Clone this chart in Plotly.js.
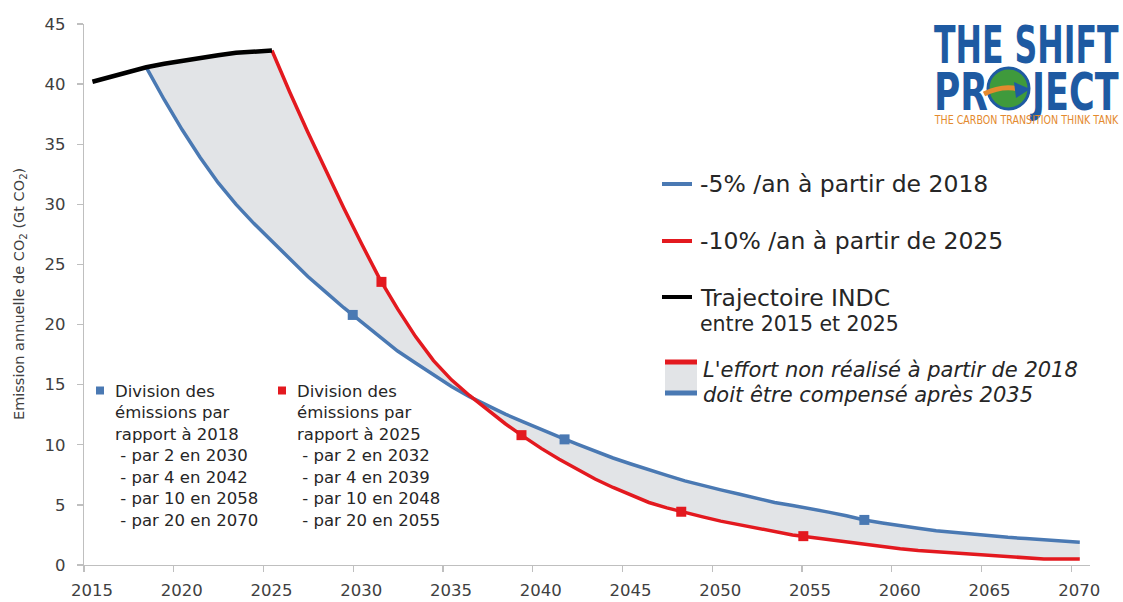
<!DOCTYPE html>
<html>
<head>
<meta charset="utf-8">
<script src="https://cdn.plot.ly/plotly-3.0.1.min.js"></script>
<style>
  html, body { margin: 0; padding: 0; background: #ffffff; }
  #chart { width: 1123px; height: 602px; }
</style>
</head>
<body>
<div id="chart"></div>
<script>
// ---- Data (Gt CO2 per year) ----
const indcYears = [2015, 2016, 2017, 2018, 2019, 2020, 2021, 2022, 2023, 2024, 2025];
const indcValues = [40.2, 40.6, 41.0, 41.4, 41.7, 41.95, 42.2, 42.4, 42.6, 42.7, 42.8];

const minus5Years = [2018, 2019, 2020, 2021, 2022, 2023, 2024, 2025, 2026, 2027,
  2028, 2029, 2030, 2031, 2032, 2033, 2034, 2035, 2036, 2037,
  2038, 2039, 2040, 2041, 2042, 2043, 2044, 2045, 2046, 2047,
  2048, 2049, 2050, 2051, 2052, 2053, 2054, 2055, 2056, 2057,
  2058, 2059, 2060, 2061, 2062, 2063, 2064, 2065, 2066, 2067,
  2068, 2069, 2070];
const minus5Values = [41.4, 38.7, 36.2, 33.9, 31.8, 30.0, 28.4, 26.9, 25.4, 24.0,
  22.7, 21.4, 20.2, 19.0, 17.8, 16.8, 15.8, 14.85, 14.0, 13.25,
  12.55, 11.9, 11.25, 10.65, 10.05, 9.45, 8.9, 8.4, 7.9, 7.45,
  7.0, 6.6, 6.25, 5.9, 5.55, 5.2, 4.95, 4.7, 4.4, 4.1,
  3.75, 3.5, 3.25, 3.05, 2.85, 2.7, 2.55, 2.4, 2.3, 2.2,
  2.1, 2.0, 1.9];

const minus10Years = [2025, 2026, 2027, 2028, 2029, 2030, 2031, 2032, 2033, 2034,
  2035, 2036, 2037, 2038, 2039, 2040, 2041, 2042, 2043, 2044,
  2045, 2046, 2047, 2048, 2049, 2050, 2051, 2052, 2053, 2054,
  2055, 2056, 2057, 2058, 2059, 2060, 2061, 2062, 2063, 2064,
  2065, 2066, 2067, 2068, 2069, 2070];
const minus10Values = [42.8, 39.3, 36.0, 32.8, 29.7, 26.7, 23.8, 21.3, 19.0, 17.0,
  15.4, 14.1, 12.9, 11.75, 10.7, 9.7, 8.8, 7.95, 7.15, 6.45,
  5.8, 5.2, 4.75, 4.35, 4.0, 3.65, 3.35, 3.05, 2.75, 2.5,
  2.3, 2.1, 1.9, 1.7, 1.5, 1.35, 1.2, 1.1, 1.0, 0.88,
  0.78, 0.7, 0.62, 0.5, 0.5, 0.5];

// milestone markers (division of emissions)
const minus5MarkerYears = [2029.5, 2041.3, 2058.0];
const minus5MarkerValues = [20.8, 10.45, 3.75];
const minus10MarkerYears = [2031.1, 2038.9, 2047.8, 2054.6];
const minus10MarkerValues = [23.55, 10.8, 4.43, 2.4];

const xTickLabels = ['2015', '2020', '2025', '2030', '2035', '2040', '2045',
  '2050', '2055', '2060', '2065', '2070'];
const yTickValues = [0, 5, 10, 15, 20, 25, 30, 35, 40, 45];

// ---- Styling ----
const BLUE = '#4a79b3';
const RED = '#e3191f';
const BLACK = '#000000';
const FILL = '#e2e4e7';
const AXIS = '#bfbfbf';
const TEXT = '#404040';
const FONT = 'DejaVu Sans, Verdana, sans-serif';
const LOGO_FONT = 'DejaVu Sans, sans-serif';
const LOGO_BLUE = '#1e5aa2';
const LOGO_ORANGE = '#e48a2e';

const W = 1123, H = 602;
const M = { l: 84, r: 33, t: 24, b: 37 };
const PW = W - M.l - M.r;
const PH = H - M.t - M.b;
const px = x => (x - M.l) / PW;          // pixel -> paper (x)
const py = y => (H - M.b - y) / PH;      // pixel -> paper (y)

// Shaded gap: INDC from 2018 to 2025, then the -10% path, back along the -5% path
const i2018 = indcYears.indexOf(2018);
const gapX = indcYears.slice(i2018).concat(minus10Years, minus5Years.slice().reverse());
const gapY = indcValues.slice(i2018).concat(minus10Values, minus5Values.slice().reverse());

const traces = [
  { x: gapX, y: gapY, type: 'scatter', mode: 'lines', fill: 'toself',
    fillcolor: FILL, line: { width: 0 }, hoverinfo: 'skip', showlegend: false },
  { x: minus5Years, y: minus5Values, type: 'scatter', mode: 'lines',
    line: { color: BLUE, width: 3.5 }, showlegend: false },
  { x: minus10Years, y: minus10Values, type: 'scatter', mode: 'lines',
    line: { color: RED, width: 3.5 }, showlegend: false },
  { x: indcYears, y: indcValues, type: 'scatter', mode: 'lines',
    line: { color: BLACK, width: 4.5 }, showlegend: false },
  { x: minus5MarkerYears, y: minus5MarkerValues, type: 'scatter', mode: 'markers',
    marker: { symbol: 'square', size: 10, color: BLUE }, showlegend: false },
  { x: minus10MarkerYears, y: minus10MarkerValues, type: 'scatter', mode: 'markers',
    marker: { symbol: 'square', size: 10, color: RED }, showlegend: false }
];

const shapes = [];
const annotations = [];

function hLine(x0, x1, y, color, width) {
  shapes.push({ type: 'line', xref: 'paper', yref: 'paper',
    x0: px(x0), x1: px(x1), y0: py(y), y1: py(y),
    line: { color: color, width: width } });
}
function rect(x0, x1, y0, y1, color) {
  shapes.push({ type: 'rect', xref: 'paper', yref: 'paper',
    x0: px(x0), x1: px(x1), y0: py(y1), y1: py(y0),
    fillcolor: color, line: { width: 0 } });
}
function label(text, x, y, opts) {
  opts = opts || {};
  annotations.push(Object.assign({
    text: text, xref: 'paper', yref: 'paper', x: px(x), y: py(y),
    xanchor: 'left', yanchor: 'middle', align: 'left', showarrow: false,
    font: { family: FONT, size: 16.5, color: '#262626' }
  }, opts));
  return annotations.length - 1;
}

// Y axis title
label('Emission annuelle de CO<sub>2</sub> (Gt CO<sub>2</sub>)', 20, 294, {
  xanchor: 'center', textangle: -90, font: { family: FONT, size: 14.5, color: TEXT } });

// Right-hand key
hLine(662, 692, 184, BLUE, 4);
label('-5% /an à partir de 2018', 698, 184, { font: { family: FONT, size: 23.5, color: '#262626' } });
hLine(662, 692, 241, RED, 4);
label('-10% /an à partir de 2025', 698, 241, { font: { family: FONT, size: 23.5, color: '#262626' } });
hLine(662, 692, 297, BLACK, 4);
label('Trajectoire INDC', 698, 298, { font: { family: FONT, size: 23.5, color: '#262626' } });
label('entre 2015 et 2025', 698, 324, { font: { family: FONT, size: 20.5, color: '#262626' } });
rect(665, 697, 362, 393, FILL);
hLine(665, 697, 362, RED, 5);
hLine(665, 697, 393, BLUE, 5);
label("L'effort non réalisé à partir de 2018", 701, 370,
  { font: { family: FONT, size: 21, color: '#262626', style: 'italic' } });
label('doit être compensé après 2035', 701, 395,
  { font: { family: FONT, size: 21, color: '#262626', style: 'italic' } });

// Bottom-left notes
rect(96, 104, 386.5, 394.5, BLUE);
label('Division des<br>émissions par<br>rapport à 2018<br>\u00a0- par 2 en 2030<br>\u00a0- par 4 en 2042<br>\u00a0- par 10 en 2058<br>\u00a0- par 20 en 2070',
  113, 380, { yanchor: 'top' });
rect(278, 286, 386.5, 394.5, RED);
label('Division des<br>émissions par<br>rapport à 2025<br>\u00a0- par 2 en 2032<br>\u00a0- par 4 en 2039<br>\u00a0- par 10 en 2048<br>\u00a0- par 20 en 2055',
  295, 380, { yanchor: 'top' });

// Logo: heavy condensed lettering (squeezed horizontally after drawing)
const logoBoxes = [];
logoBoxes.push([label('<b>THE SHIFT</b>', 1026, 45, { xanchor: 'center',
  font: { family: LOGO_FONT, size: 52, color: LOGO_BLUE } }), 934, 1119]);
logoBoxes.push([label('<b>PR</b>', 961, 92, { xanchor: 'center',
  font: { family: LOGO_FONT, size: 52, color: LOGO_BLUE } }), 934, 988]);
logoBoxes.push([label('<b>JECT</b>', 1074, 92, { xanchor: 'center',
  font: { family: LOGO_FONT, size: 52, color: LOGO_BLUE } }), 1030, 1119]);
logoBoxes.push([label('THE CARBON TRANSITION THINK TANK', 1026, 119, { xanchor: 'center',
  font: { family: LOGO_FONT, size: 13, color: LOGO_ORANGE } }), 934, 1119]);

shapes.push({ type: 'circle', xref: 'paper', yref: 'paper',
  x0: px(988), x1: px(1029), y0: py(109), y1: py(68),
  fillcolor: '#3f9a3c', line: { color: LOGO_BLUE, width: 3 } });
shapes.push({ type: 'path', xref: 'paper', yref: 'paper',
  path: 'M ' + px(984) + ' ' + py(94) + ' Q ' + px(1004) + ' ' + py(84) + ' ' + px(1022) + ' ' + py(90),
  line: { color: LOGO_ORANGE, width: 5 } });
shapes.push({ type: 'path', xref: 'paper', yref: 'paper',
  path: 'M ' + px(1014) + ' ' + py(82) + ' L ' + px(1030) + ' ' + py(89) + ' L ' + px(1016) + ' ' + py(98) + ' Z',
  fillcolor: LOGO_BLUE, line: { width: 0 } });

const layout = {
  width: W, height: H,
  margin: M,
  paper_bgcolor: '#ffffff', plot_bgcolor: '#ffffff',
  showlegend: false,
  xaxis: {
    range: [2014.53, 2070.57],
    tickmode: 'array',
    tickvals: xTickLabels.map(s => Number(s) - 0.47),
    ticktext: xTickLabels,
    ticklabelshift: 8,
    ticklabelstandoff: 4,
    ticks: 'outside', ticklen: 6, tickcolor: AXIS, tickwidth: 1.3,
    showline: true, linecolor: AXIS, linewidth: 1.3,
    showgrid: false, zeroline: false,
    tickfont: { family: FONT, size: 16.5, color: TEXT }
  },
  yaxis: {
    range: [0, 45],
    tickmode: 'array', tickvals: yTickValues,
    ticks: 'outside', ticklen: 6, tickcolor: AXIS, tickwidth: 1.3,
    ticklabelstandoff: 8,
    showline: true, linecolor: AXIS, linewidth: 1.3,
    showgrid: false, zeroline: false,
    tickfont: { family: FONT, size: 16.5, color: TEXT }
  },
  shapes: shapes,
  annotations: annotations
};

// squeeze a drawn annotation's text horizontally into [left, right] (pixels)
function squeeze(gd, index, left, right) {
  const t = gd.querySelector('g.annotation[data-index="' + index + '"] text.annotation-text');
  if (!t) return;
  const r = t.getBoundingClientRect();
  const bb = t.getBBox();
  const sx = (right - left) / r.width;
  const lc = bb.x + bb.width / 2;
  const sc = r.left + r.width / 2;
  const tc = (left + right) / 2;
  t.setAttribute('transform', 'matrix(' + sx + ',0,0,1,' + (lc * (1 - sx) + tc - sc) + ',0)');
}

Plotly.newPlot('chart', traces, layout, { displayModeBar: false, staticPlot: true })
  .then(gd => { logoBoxes.forEach(b => squeeze(gd, b[0], b[1], b[2])); });
</script>
</body>
</html>
